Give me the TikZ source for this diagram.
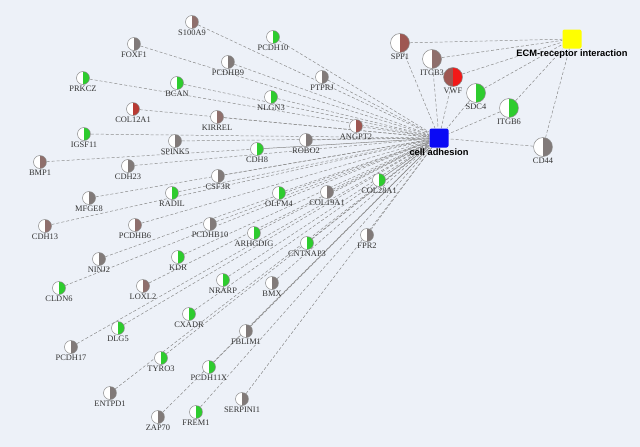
\documentclass[tikz,border=0pt]{standalone}
\usepackage{fontspec}
\setmainfont{Liberation Serif}
\newfontfamily\genefont{Liberation Serif}
\newfontfamily\hubfont{Liberation Sans}
\usetikzlibrary{backgrounds}
\definecolor{PaleSky}{HTML}{EDF1F8}
\definecolor{LeafGreen}{HTML}{2ECC2E}
\definecolor{AshBrown}{HTML}{817A79}
\definecolor{DustRose}{HTML}{8F6F6C}
\definecolor{Brick}{HTML}{9E5752}
\definecolor{Scarlet}{HTML}{B83A33}
\definecolor{PureRed}{HTML}{F21818}
\definecolor{HubBlue}{HTML}{0A0AF5}
\definecolor{HubYellow}{HTML}{FFFF00}
\definecolor{EdgeGrey}{HTML}{8C8C8C}

\tikzset{
  gene/.style={circle,draw=gray!90,line width=.5pt,fill=white,minimum size=13pt,inner sep=0pt,
    path picture={\fill[#1] (path picture bounding box.north) rectangle (path picture bounding box.south east);}},
  biggene/.style={gene=#1,minimum size=19pt},
  genelabel/.style={font=\genefont\fontsize{8.4}{9}\selectfont,text=black!80,inner sep=1.2pt},
  hub/.style={rounded corners=2pt,minimum size=19pt,inner sep=0pt,fill=#1},
  hublabel/.style={font=\hubfont\bfseries\fontsize{9.3}{10}\selectfont,inner sep=1pt},
  link/.style={dash pattern=on 3pt off 2pt,EdgeGrey,line width=.5pt}
}

\begin{document}
\begin{tikzpicture}[x=1pt,y=-1pt]
  \useasboundingbox (0,0) rectangle (640,447);
  \begin{pgfonlayer}{background}
    \fill[PaleSky] (0,0) rectangle (640,447);
  \end{pgfonlayer}

  % the two pathways
  \node[hub=HubBlue,label={[hublabel]below:cell adhesion}] (adh) at (439,138) {};
  \node[hub=HubYellow,label={[hublabel]below:ECM-receptor interaction}] (ecm) at (572,39) {};

  % genes in both pathways
  \foreach \g/\x/\y/\c in {SPP1/400/43/Brick,ITGB3/432/59/DustRose,SDC4/476/93/LeafGreen,
      ITGB6/509/108/LeafGreen,CD44/543/147/AshBrown}{
    \node[biggene=\c,label={[genelabel]below:\g}] (\g) at (\x,\y) {};
  }
  \node[biggene=PureRed,fill=Brick,label={[genelabel]below:VWF}] (VWF) at (453,77) {};
  \begin{pgfonlayer}{background}
    \foreach \g in {SPP1,ITGB3,VWF,SDC4,ITGB6,CD44}{
      \draw[link] (\g) -- (adh);
      \draw[link] (\g) -- (ecm);
    }
  \end{pgfonlayer}

  % genes in cell adhesion only
  \foreach \g/\x/\y/\c in {S100A9/192/22/DustRose,FOXF1/134/44/AshBrown,PCDH10/273/37/LeafGreen,
      PCDHB9/228/62/AshBrown,PTPRJ/322/77/AshBrown,PRKCZ/83/78/LeafGreen,BCAN/177/83/LeafGreen,
      NLGN3/271/97/LeafGreen,COL12A1/133/109/Scarlet,KIRREL/217/117/DustRose,ANGPT2/356/126/Brick,
      IGSF11/84/134/LeafGreen,SPINK5/175/141/AshBrown,ROBO2/306/140/AshBrown,CDH8/257/149/LeafGreen,
      BMP1/40/162/DustRose,CDH23/128/166/AshBrown,CSF3R/218/176/AshBrown,COL28A1/379/180/LeafGreen,
      COL19A1/327/192/AshBrown,OLFM4/279/193/LeafGreen,RADIL/172/193/LeafGreen,MFGE8/89/198/AshBrown,
      PCDHB10/210/224/AshBrown,PCDHB6/135/225/DustRose,CDH13/45/226/DustRose,ARHGDIG/254/233/LeafGreen,
      FPR2/367/235/AshBrown,CNTNAP3/307/243/LeafGreen,KDR/178/257/LeafGreen,NINJ2/99/259/AshBrown,
      NRARP/223/280/LeafGreen,BMX/272/283/AshBrown,LOXL2/143/286/DustRose,CLDN6/59/288/LeafGreen,
      CXADR/189/314/LeafGreen,DLG5/118/328/LeafGreen,FBLIM1/246/331/AshBrown,PCDH17/71/347/AshBrown,
      TYRO3/161/358/LeafGreen,PCDH11X/209/367/LeafGreen,ENTPD1/110/393/AshBrown,
      SERPINI1/242/399/AshBrown,FREM1/196/412/LeafGreen,ZAP70/158/417/AshBrown}{
    \node[gene=\c,label={[genelabel]below:\g}] (\g) at (\x,\y) {};
    \begin{pgfonlayer}{background}
      \draw[link] (\g) -- (adh);
    \end{pgfonlayer}
  }
\end{tikzpicture}
\end{document}
